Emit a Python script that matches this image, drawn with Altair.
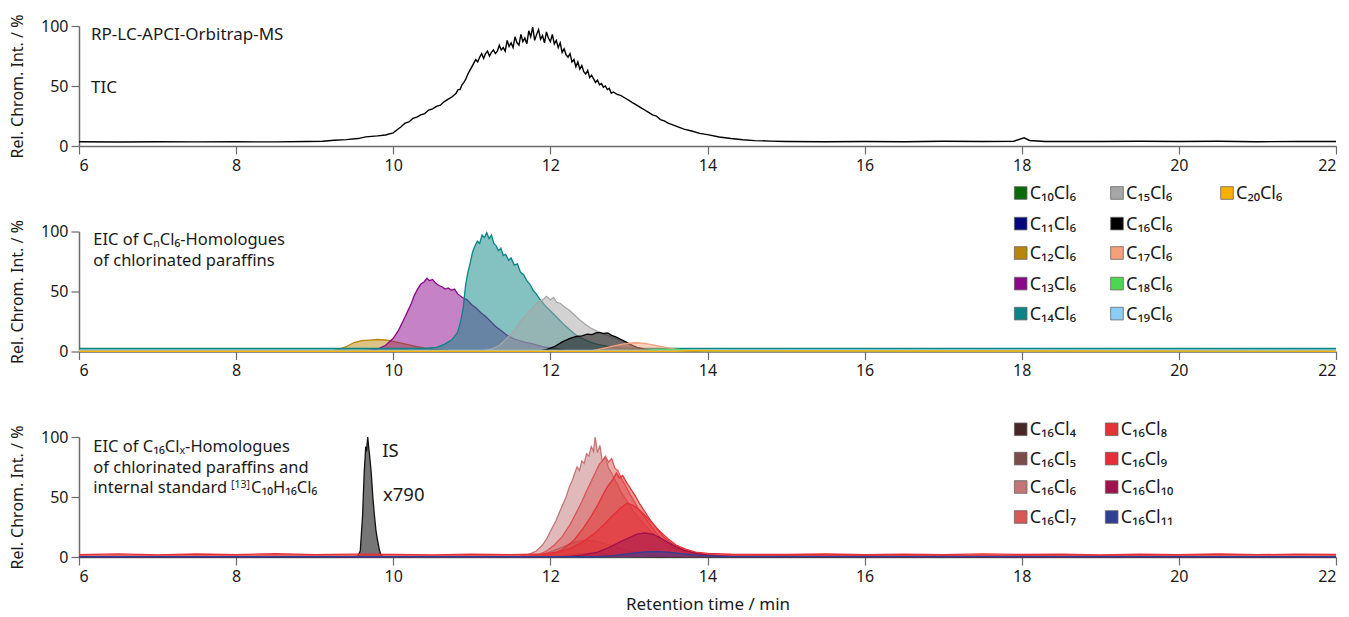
import altair as alt
import pandas as pd

FONT = "Noto Sans"
X_TICKS = [6, 8, 10, 12, 14, 16, 18, 20, 22]
Y_TICKS = [0, 50, 100]
Y_TITLE = "Rel. Chrom. Int. / %"
X_TITLE = "Retention time / min"

# ---------------- Panel 1: TIC ----------------
TIC_T = [6.0, 6.5, 7.0, 7.5, 8.0, 8.5, 8.9, 9.1, 9.25, 9.4, 9.55, 9.65, 9.8, 9.9,
         10.0, 10.05, 10.1, 10.15, 10.2, 10.25, 10.3, 10.35, 10.4, 10.45, 10.5, 10.55, 10.6, 10.65,
         10.7, 10.75,
         10.8, 10.825, 10.85, 10.875, 10.9, 10.925, 10.95, 10.975, 11.0,
         11.025, 11.05, 11.075, 11.1, 11.125, 11.15, 11.175, 11.2,
         11.225, 11.25, 11.275, 11.3, 11.325, 11.35, 11.375, 11.4,
         11.425, 11.45, 11.475, 11.5, 11.525, 11.55, 11.575, 11.6,
         11.625, 11.65, 11.675, 11.7, 11.725, 11.75, 11.775, 11.8,
         11.825, 11.85, 11.875, 11.9, 11.925, 11.95, 11.975, 12.0,
         12.025, 12.05, 12.075, 12.1, 12.125, 12.15, 12.175, 12.2,
         12.225, 12.25, 12.275, 12.3, 12.325, 12.35, 12.375, 12.4,
         12.425, 12.45, 12.475, 12.5, 12.525, 12.55, 12.575, 12.6,
         12.625, 12.65, 12.675, 12.7, 12.725, 12.75, 12.775, 12.8,
         12.85, 12.9, 12.95, 13.0, 13.05, 13.1, 13.15, 13.2, 13.25,
         13.3, 13.35, 13.4, 13.45, 13.5, 13.6, 13.7, 13.8, 13.9, 14.0, 14.15, 14.3, 14.45, 14.6, 14.8,
         15.0, 15.5, 16.0, 16.5, 17.0, 17.5, 17.9, 18.03, 18.1, 18.3, 19.0, 19.5, 20.0, 20.5, 21.0, 21.5,
         22.0]
TIC_V = [3.5, 3.3, 3.6, 3.4, 3.5, 3.4, 3.7, 4.0, 4.8, 5.3, 6.2, 7.6, 8.4, 9.2,
         11, 13.5, 16, 19, 20, 23, 24, 26, 27, 30, 31, 33, 34, 37,
         39, 41,
         44, 47, 47, 51, 53, 56, 60, 63, 66,
         69, 72, 70, 74, 77, 73, 77, 79,
         75, 78, 80, 77, 79, 84, 80, 82,
         79, 88, 83, 86, 82, 91, 86, 84,
         93, 87, 90, 85, 96, 91, 99, 88,
         93, 97, 89, 92, 86, 95, 90, 87,
         93, 85, 88, 82, 86, 78, 81, 76,
         74, 77, 70, 72, 66, 70, 64, 67,
         62, 60, 63, 57, 59, 56, 53, 55,
         51, 52, 49, 50, 47, 48, 44, 45,
         43, 42, 40, 38, 36, 34, 32, 30, 28,
         26, 25, 22, 21, 19, 16.5, 14, 12.5, 10.5, 9.5, 7.5, 6.2, 5.2, 4.5, 4.1,
         3.8, 3.6, 3.8, 3.6, 3.9, 3.7, 4.0, 6.8, 4.6, 3.8, 3.7, 3.9, 3.7, 3.9, 3.6, 3.8,
         3.8]

# ---------------- Panel 2: CnCl6 homologues ----------------
E6_NAMES = ["C₁₀Cl₆", "C₁₁Cl₆", "C₁₂Cl₆", "C₁₃Cl₆", "C₁₄Cl₆", "C₁₅Cl₆",
            "C₁₆Cl₆", "C₁₇Cl₆", "C₁₈Cl₆", "C₁₉Cl₆", "C₂₀Cl₆"]
E6_COLORS = ["#0b6b0b", "#06067f", "#b8860b", "#8b088b", "#0a8585", "#a6a6a6",
             "#000000", "#f5a07a", "#4fd64f", "#8ccdf5", "#f7b000"]

C10_T = [6.0, 22.0]
C10_V = [0.3, 0.3]
C11_T = [6.0, 22.0]
C11_V = [0.5, 0.5]
C12_T = [6.0, 9.2, 9.3, 9.4, 9.5, 9.6, 9.7, 9.8, 9.9, 10.0, 10.1, 10.2, 10.3, 10.4, 10.5, 10.7, 11.0, 22.0]
C12_V = [0.3, 0.3, 1.5, 4, 7.5, 9, 9.5, 10, 9.6, 8.5, 7, 5.5, 4, 2.8, 1.8, 1, 0.5, 0.3]
C13_T = [6.0, 9.6, 9.8, 9.9, 10.0, 10.07, 10.13, 10.18, 10.23, 10.27, 10.31, 10.35, 10.39, 10.43, 10.46,
         10.5, 10.54, 10.58, 10.62, 10.66, 10.7, 10.74, 10.78, 10.82, 10.88, 10.94, 11.0, 11.06, 11.12,
         11.18, 11.24, 11.3, 11.38, 11.46, 11.56, 11.66, 11.76, 11.9, 12.05, 12.2, 12.5, 22.0]
C13_V = [0.3, 0.3, 2, 5, 11, 18, 26, 33, 40, 47, 52, 56, 58, 61, 59,
         60, 57, 55, 54, 52, 53, 51, 52, 48, 45, 43, 39, 36, 32,
         29, 25, 21, 17, 13, 10, 8, 6.5, 4, 2.5, 1, 0.4, 0.3]
C14_T = [6.0, 10.4, 10.55, 10.65, 10.75, 10.82, 10.86, 10.89, 10.92, 10.95, 10.98, 11.01, 11.04, 11.07,
         11.1, 11.13, 11.16, 11.19, 11.22, 11.25, 11.28, 11.31, 11.34, 11.37, 11.4, 11.43, 11.47, 11.5,
         11.54, 11.58, 11.62, 11.66, 11.7, 11.74, 11.78, 11.82, 11.86, 11.9, 11.95, 12.0, 12.06, 12.12,
         12.18, 12.25, 12.32, 12.4, 12.5, 12.6, 12.75, 12.9, 13.2, 22.0]
C14_V = [2.5, 2.5, 3.5, 6, 10, 16, 26, 36, 55, 66, 74, 83, 88, 92,
         90, 97, 95, 99, 94, 97, 90, 88, 84, 86, 80, 81, 76, 78,
         72, 73, 66, 64, 59, 56, 51, 48, 44, 41, 37, 34, 30, 26,
         22, 18, 14, 11, 8, 6, 4, 3, 2.6, 2.5]
C15_T = [6.0, 11.1, 11.25, 11.35, 11.45, 11.55, 11.62, 11.7, 11.78, 11.84, 11.9, 11.95, 12.0, 12.04,
         12.08, 12.13, 12.18, 12.23, 12.28, 12.33, 12.38, 12.44, 12.5, 12.56, 12.62, 12.7, 12.78, 12.86,
         12.94, 13.02, 13.1, 13.2, 13.35, 13.6, 22.0]
C15_V = [0.3, 0.3, 2, 5, 11, 18, 25, 31, 37, 41, 43, 46, 43, 45,
         41, 40, 37, 35, 32, 29, 26, 23, 20, 18, 16, 14, 12, 10,
         8, 5.5, 3.5, 2, 1, 0.4, 0.3]
C16_T = [6.0, 11.85, 11.95, 12.05, 12.15, 12.25, 12.33, 12.4, 12.47, 12.53, 12.58, 12.63, 12.68, 12.73,
         12.78, 12.84, 12.9, 12.96, 13.03, 13.1, 13.2, 13.35, 13.6, 22.0]
C16_V = [0.3, 0.3, 1.5, 4, 8, 11, 12.5, 13, 14.5, 14, 15.5, 16, 15, 15.5,
         13.5, 12, 10, 8, 5.5, 3.5, 2, 0.8, 0.3, 0.3]
C17_T = [6.0, 12.5, 12.6, 12.7, 12.8, 12.9, 13.0, 13.1, 13.2, 13.3, 13.4, 13.5, 13.6, 13.75, 14.0, 22.0]
C17_V = [0.3, 0.3, 1.5, 3, 4.5, 6, 7, 7.3, 6.8, 5.5, 4.2, 3, 2, 1, 0.5, 0.3]
C18_T = [6.0, 13.0, 13.2, 13.4, 13.6, 13.8, 14.0, 22.0]
C18_V = [0.3, 0.3, 1, 1.8, 1.8, 1.2, 0.6, 0.3]
C19_T = [6.0, 22.0]
C19_V = [1.0, 1.0]
C20_T = [6.0, 13.6, 13.9, 14.2, 22.0]
C20_V = [0.2, 0.2, 1.0, 0.6, 0.2]
E6_T = [C10_T, C11_T, C12_T, C13_T, C14_T, C15_T, C16_T, C17_T, C18_T, C19_T, C20_T]
E6_V = [C10_V, C11_V, C12_V, C13_V, C14_V, C15_V, C16_V, C17_V, C18_V, C19_V, C20_V]

# ---------------- Panel 3: C16Clx homologues + IS ----------------
CL_NAMES = ["C₁₆Cl₄", "C₁₆Cl₅", "C₁₆Cl₆", "C₁₆Cl₇", "C₁₆Cl₈", "C₁₆Cl₉", "C₁₆Cl₁₀", "C₁₆Cl₁₁"]
CL_COLORS = ["#462626", "#7b4c4c", "#c27676", "#d95757", "#e23434", "#e52e35", "#a1124d", "#2f3f95"]

IS_T = [6.0, 9.5, 9.55, 9.58, 9.61, 9.63, 9.65, 9.66, 9.675, 9.69, 9.7, 9.72, 9.74, 9.76, 9.78, 9.8,
        9.82, 9.84, 9.87, 22.0]
IS_V = [0, 0, 1, 5, 35, 70, 92, 88, 100, 90, 84, 70, 50, 35, 22, 14, 7, 2, 0.3, 0]

CL4_T = [6.0, 11.9, 12.1, 12.3, 12.5, 12.7, 12.9, 13.1, 13.4, 22.0]
CL4_V = [0.2, 0.2, 1, 2.5, 3, 2.5, 1.5, 0.6, 0.2, 0.2]
CL5_T = [6.0, 11.7, 11.85, 11.95, 12.05, 12.15, 12.25, 12.35, 12.45, 12.55, 12.65, 12.75, 12.85, 12.95,
         13.1, 13.25, 13.45, 13.7, 22.0]
CL5_V = [0.3, 0.3, 1.5, 3, 5.5, 8, 11, 13, 14, 13.5, 12, 10, 8, 6, 4, 2, 1, 0.4, 0.3]
CL6_T = [6.0, 11.6, 11.72, 11.82, 11.9, 11.96, 12.02, 12.07, 12.12, 12.16, 12.2, 12.24, 12.28, 12.31,
         12.34, 12.37, 12.4, 12.43, 12.46, 12.49, 12.52, 12.55, 12.57, 12.6, 12.63, 12.66, 12.7, 12.74,
         12.78, 12.82, 12.86, 12.9, 12.95, 13.0, 13.06, 13.12, 13.2, 13.28, 13.36, 13.45, 13.55, 13.65,
         13.8, 14.0, 14.3, 22.0]
CL6_V = [0.5, 0.5, 2, 5, 10, 16, 24, 30, 38, 44, 50, 58, 64, 70,
         75, 72, 80, 78, 86, 84, 92, 88, 100, 87, 93, 80, 83, 74,
         70, 64, 60, 54, 49, 44, 38, 33, 27, 21, 16, 11, 8, 5,
         3, 1.5, 0.6, 0.5]
CL7_T = [6.0, 11.7, 11.85, 11.95, 12.05, 12.15, 12.25, 12.33, 12.4, 12.46, 12.52, 12.57, 12.62, 12.66,
         12.7, 12.74, 12.78, 12.82, 12.86, 12.9, 12.95, 13.0, 13.06, 13.12, 13.2, 13.28, 13.36, 13.45,
         13.55, 13.65, 13.8, 14.0, 14.3, 22.0]
CL7_V = [0.5, 0.5, 2, 5, 10, 17, 27, 37, 46, 55, 63, 70, 77, 80,
         84, 79, 82, 74, 72, 66, 60, 54, 47, 40, 33, 26, 19, 13,
         9, 6, 3.5, 1.8, 0.6, 0.5]
CL8_T = [6.0, 11.85, 12.0, 12.15, 12.3, 12.42, 12.52, 12.6, 12.67, 12.73, 12.79, 12.84, 12.88, 12.92,
         12.97, 13.02, 13.08, 13.14, 13.2, 13.28, 13.36, 13.45, 13.55, 13.65, 13.8, 14.0, 14.3, 22.0]
CL8_V = [0.5, 0.5, 2, 6, 14, 24, 34, 43, 52, 59, 64, 70, 66, 68,
         62, 57, 51, 44, 38, 30, 23, 16, 11, 7.5, 4, 2, 0.7, 0.5]
CL9_T = [6.0, 6.5, 7.0, 7.5, 8.0, 8.5, 9.0, 9.5, 10.0, 10.5, 11.0, 11.5, 11.9, 12.1, 12.25, 12.4, 12.55,
         12.68, 12.8, 12.9, 12.98, 13.05, 13.12, 13.2, 13.3, 13.4, 13.5, 13.6, 13.72, 13.85, 14.0, 14.3,
         15.0, 15.5, 16.0, 16.5, 17.0, 17.5, 18.0, 18.5, 19.0, 19.5, 20.0, 20.5, 21.0, 21.5, 22.0]
CL9_V = [2.0, 2.6, 1.8, 2.5, 2.0, 2.7, 1.9, 2.4, 2.2, 1.8, 2.3, 2.0, 2.5, 4, 7, 12, 19,
         27, 35, 41, 45, 43, 40, 35, 28, 21, 15, 10, 6.5, 4, 3, 2.3,
         2.1, 2.5, 1.9, 2.4, 2.0, 2.6, 2.1, 2.4, 1.8, 2.3, 2.0, 2.5, 1.9, 2.4, 2.1]
CL10_T = [6.0, 12.2, 12.4, 12.6, 12.75, 12.9, 13.0, 13.1, 13.2, 13.3, 13.4, 13.5, 13.6, 13.7, 13.85,
          14.0, 14.3, 22.0]
CL10_V = [0.3, 0.3, 1.5, 4, 8, 13, 16, 19, 20, 19, 16, 12, 8.5, 5.5, 3, 1.5, 0.5, 0.3]
CL11_T = [6.0, 12.6, 12.8, 13.0, 13.2, 13.35, 13.5, 13.7, 13.9, 14.2, 22.0]
CL11_V = [0.2, 0.2, 1.2, 2.8, 4.2, 4.5, 4, 2.6, 1.3, 0.4, 0.2]
CL_T = [CL4_T, CL5_T, CL6_T, CL7_T, CL8_T, CL9_T, CL10_T, CL11_T]
CL_V = [CL4_V, CL5_V, CL6_V, CL7_V, CL8_V, CL9_V, CL10_V, CL11_V]

# ---------------- layout helpers ----------------
W = 1257
H = 120
TEXT_COLOR = "#1a1a1a"
ONE = pd.DataFrame({"k": [0]})


def xenc(title=None):
    if title:
        ax = alt.Axis(values=X_TICKS, format="d", title=title, titlePadding=12, titleFontSize=17)
    else:
        ax = alt.Axis(values=X_TICKS, format="d", title=None)
    return alt.X("t:Q", scale=alt.Scale(domain=[6, 22], nice=False, zero=False), axis=ax)


def yenc():
    return alt.Y("v:Q", stack=None, scale=alt.Scale(domain=[0, 100], nice=False),
                 axis=alt.Axis(values=Y_TICKS, title=Y_TITLE, titlePadding=15))


def series(t, v, color, xtitle=None, fill_opacity=0.5, fill=None, line_width=1.3, area=True):
    df = pd.DataFrame({"t": t, "v": v})
    base = alt.Chart(df).encode(x=xenc(xtitle), y=yenc())
    out = []
    if area:
        out.append(base.mark_area(color=fill or color, fillOpacity=fill_opacity, strokeWidth=0))
    out.append(base.mark_line(color=color, strokeWidth=line_width))
    return out


def label(txt, x, y, size=16.5, color=TEXT_COLOR):
    return alt.Chart(ONE).mark_text(text=txt, font=FONT, fontSize=size, align="left",
                                    baseline="alphabetic", color=color).encode(
        x=alt.value(x), y=alt.value(y))


def legend_entry(name, color, x, y):
    sq = alt.Chart(ONE).mark_square(size=160, color=color, opacity=1, stroke="#666",
                                    strokeWidth=0.8).encode(x=alt.value(x), y=alt.value(y))
    tx = label(name, x + 9, y + 6, size=18)
    return [sq, tx]


# ---------------- Panel 1 ----------------
p1_layers = series(TIC_T, TIC_V, "#000000", area=False, line_width=1.4)
p1_layers += [label("RP-LC-APCI-Orbitrap-MS", 12, 14.3, size=17), label("TIC", 12, 67, size=17)]
p1 = alt.layer(*p1_layers).properties(width=W, height=H)

# ---------------- Panel 2 ----------------
p2_layers = []
for t, v, c in zip(E6_T, E6_V, E6_COLORS):
    p2_layers += series(t, v, c)
p2_layers += [label("EIC of CₙCl₆-Homologues", 14.3, 13.8),
              label("of chlorinated paraffins", 14.3, 34.5)]
E6_COLX = [941.7, 1038, 1148]
E6_ROWY = [-38.5, -7.9, 21.5, 52.1, 82.1]
for i, (n, c) in enumerate(zip(E6_NAMES, E6_COLORS)):
    p2_layers += legend_entry(n, c, E6_COLX[i // 5], E6_ROWY[i % 5])
p2 = alt.layer(*p2_layers).properties(width=W, height=H)

# ---------------- Panel 3 ----------------
p3_layers = series(IS_T, IS_V, "#111111", xtitle=X_TITLE, fill="#5e5e5e", fill_opacity=0.85)
for t, v, c in zip(CL_T, CL_V, CL_COLORS):
    p3_layers += series(t, v, c, xtitle=X_TITLE)
p3_layers += [label("EIC of C₁₆Clₓ-Homologues", 14.3, 15),
              label("of chlorinated paraffins and", 14.3, 35.6),
              label("internal standard", 14.3, 56),
              label("[13]", 152, 51.2, size=10.5),
              label("C₁₀H₁₆Cl₆", 172, 56),
              label("IS", 303.3, 20, size=18.5),
              label("x790", 304, 64.3, size=18.5)]
CL_COLX = [941.7, 1032.7]
CL_ROWY = [-7.7, 21.6, 50, 80]
for i, (n, c) in enumerate(zip(CL_NAMES, CL_COLORS)):
    p3_layers += legend_entry(n, c, CL_COLX[i // 4], CL_ROWY[i % 4])
p3 = alt.layer(*p3_layers).properties(width=W, height=H)

chart = alt.vconcat(p1, p2, p3, spacing=85.5, bounds="flush").properties(
    padding={"left": 9, "top": 13, "right": 2, "bottom": 2}
).configure_axis(
    labelFont=FONT, labelFontSize=16, labelColor=TEXT_COLOR,
    titleFont=FONT, titleFontSize=16, titleFontWeight="normal", titleColor=TEXT_COLOR,
    domainColor="#6b6b6b", domainWidth=1.5, tickColor="#6b6b6b", tickWidth=1.2, tickSize=8,
    labelPadding=3, grid=False
).configure_view(stroke="transparent")

chart.save("out.html", embed_options={"renderer": "svg", "actions": False})
